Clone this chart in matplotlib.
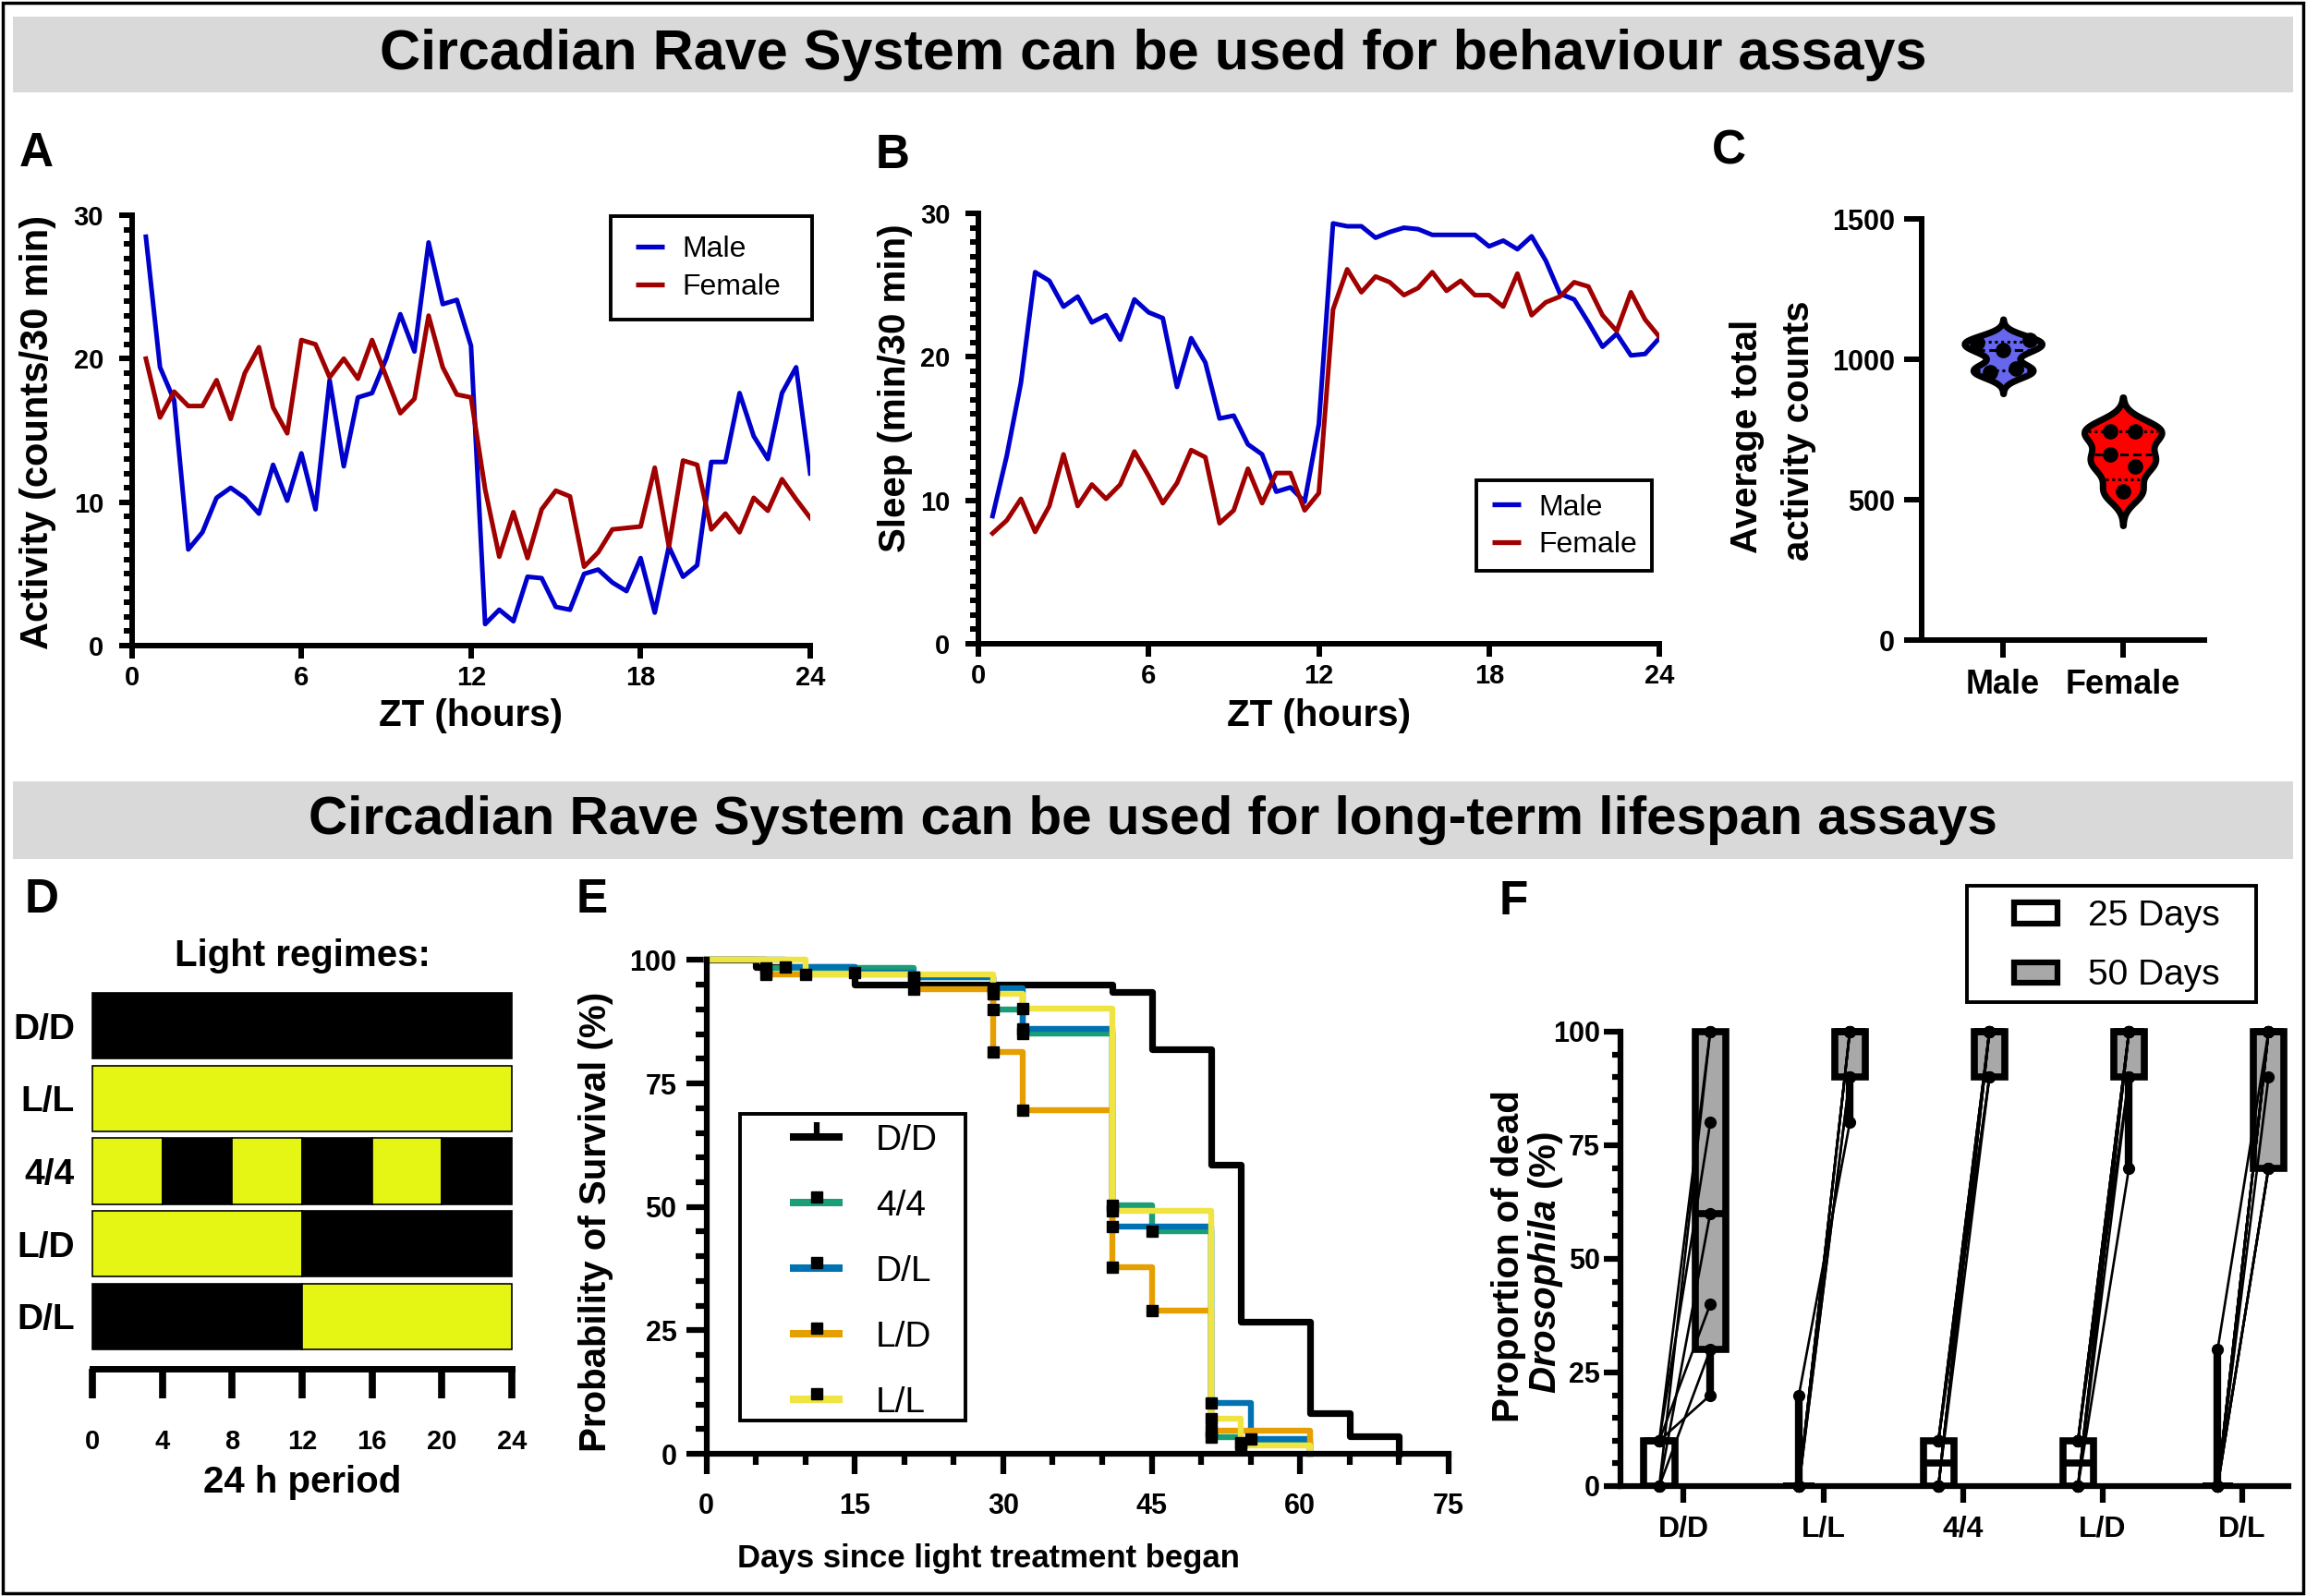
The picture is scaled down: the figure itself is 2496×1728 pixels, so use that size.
import numpy as np
import matplotlib
matplotlib.use("Agg")
import matplotlib.pyplot as plt
from matplotlib.patches import Rectangle
from matplotlib.lines import Line2D
from matplotlib.ticker import MultipleLocator
from itertools import groupby

plt.rcParams['font.family'] = ['Liberation Sans', 'DejaVu Sans']
plt.rcParams['font.weight'] = 'bold'
plt.rcParams['mathtext.fontset'] = 'custom'
plt.rcParams['mathtext.it'] = 'Liberation Sans:italic:bold'
plt.rcParams['mathtext.rm'] = 'Liberation Sans:bold'

# ---------------- data ----------------
headers = ['Circadian Rave System can be used for behaviour assays',
           'Circadian Rave System can be used for long-term lifespan assays']

zt = np.arange(0.5, 24.01, 0.5)   # 30 min bins
act_male = [28.5, 19.4, 17.1, 6.7, 7.9, 10.3, 11.0, 10.3, 9.2, 12.6, 10.1, 13.4,
            9.5, 18.5, 12.5, 17.3, 17.6, 20.0, 23.1, 20.5, 28.1, 23.8, 24.1, 20.9,
            1.5, 2.5, 1.7, 4.8, 4.7, 2.7, 2.5, 5.0, 5.3, 4.4, 3.8, 6.1,
            2.3, 6.9, 4.8, 5.6, 12.8, 12.8, 17.6, 14.6, 13.0, 17.6, 19.4, 12.0]
act_female = [20.0, 15.9, 17.7, 16.7, 16.7, 18.5, 15.8, 19.0, 20.8, 16.6, 14.8, 21.3,
              21.0, 18.7, 20.0, 18.6, 21.3, 18.75, 16.2, 17.2, 23.0, 19.4, 17.5, 17.3,
              10.9, 6.2, 9.3, 6.1, 9.5, 10.8, 10.4, 5.5, 6.5, 8.1, 8.2, 8.3,
              12.4, 6.9, 12.9, 12.6, 8.1, 9.2, 7.9, 10.3, 9.4, 11.6, 10.2, 8.9]
sleep_male = [8.9, 13.1, 18.2, 25.9, 25.3, 23.5, 24.2, 22.4, 22.9, 21.2, 24.0, 23.1,
              22.7, 17.9, 21.3, 19.6, 15.7, 15.9, 13.9, 13.2, 10.6, 10.9, 9.9, 15.3,
              29.3, 29.1, 29.1, 28.3, 28.7, 29.0, 28.9, 28.5, 28.5, 28.5, 28.5, 27.7,
              28.1, 27.5, 28.4, 26.7, 24.4, 24.0, 22.4, 20.7, 21.6, 20.1, 20.2, 21.3]
sleep_female = [7.7, 8.6, 10.1, 7.8, 9.6, 13.2, 9.6, 11.1, 10.1, 11.1, 13.4, 11.7,
                9.8, 11.2, 13.5, 13.0, 8.4, 9.3, 12.2, 9.8, 11.9, 11.9, 9.3, 10.5,
                23.3, 26.1, 24.5, 25.6, 25.2, 24.3, 24.8, 25.9, 24.6, 25.3, 24.3, 24.3,
                23.5, 25.8, 22.9, 23.8, 24.2, 25.2, 24.9, 22.9, 21.8, 24.5, 22.6, 21.4]

sexes = ['Male', 'Female']
total_male = [953, 966, 1032, 1058, 1068]
total_female = [528, 617, 661, 745, 745]

regimes = ['D/D', 'L/L', '4/4', 'L/D', 'D/L']
regime_blocks = ['DDDDDD', 'LLLLLL', 'LDLDLD', 'LLLDDD', 'DDDLLL']   # 4 h blocks
block_h = 4

surv_groups = ['D/D', '4/4', 'D/L', 'L/D', 'L/L']
surv_t = [[0, 5, 15, 41, 45, 51, 54, 61, 65, 70],
          [0, 6, 21, 29, 32, 41, 45, 51, 54, 61],
          [0, 8, 15, 21, 29, 32, 41, 51, 55, 61],
          [0, 6, 21, 29, 32, 41, 45, 51, 61],
          [0, 10, 29, 32, 41, 51, 54, 61]]
surv_s = [[100, 98.5, 95.0, 93.5, 82.0, 58.5, 26.7, 8.3, 3.5, 0],
          [100, 98.4, 96.5, 90.0, 85.2, 50.3, 45.1, 3.3, 2.2, 0],
          [100, 98.5, 97.5, 96.5, 94.3, 86.1, 46.0, 10.3, 2.9, 0],
          [100, 97.1, 94.1, 81.3, 69.5, 37.7, 29.0, 4.6, 0],
          [100, 97.0, 93.2, 90.1, 49.2, 7.1, 1.6, 0]]

f_cats = ['D/D', 'L/L', '4/4', 'L/D', 'D/L']
f_days = ['25 Days', '50 Days']
dead25 = [[10, 0, 10, 0, 10, 0, 10],
          [0, 0, 0, 0, 0, 0, 20],
          [0, 10, 0, 10, 0, 10, 0, 10, 0, 10],
          [0, 10, 0, 10, 0, 10, 0, 10, 0, 10],
          [0, 0, 0, 0, 30, 0, 0, 0, 0, 0]]
dead50 = [[100, 100, 80, 60, 40, 30, 20],
          [100, 100, 100, 90, 90, 100, 80],
          [100, 90, 100, 90, 100, 100, 90, 100, 100, 100],
          [100, 90, 100, 100, 70, 100, 90, 100, 100, 100],
          [100, 70, 100, 90, 100, 70, 100, 70, 100, 100]]

# ---------------- style ----------------
male_col = '#0000CC'
female_col = '#A00000'
yellow = '#E5F514'
surv_colors = ['black', '#1A9E77', '#0072B2', '#E69F00', '#F0E442']
gray = '#A8A8A8'

W, H = 2496, 1728
fig = plt.figure(figsize=(W / 100, H / 100), dpi=100)


def add_ax(x0, y0, x1, y1):
    # pixel box measured from the top-left corner
    ax = fig.add_axes([x0 / W, 1 - y1 / H, (x1 - x0) / W, (y1 - y0) / H])
    ax.set_facecolor('none')
    return ax


def put(x, y, s, **kw):
    kw.setdefault('ha', 'center')
    kw.setdefault('va', 'center')
    return fig.text(x / W, 1 - y / H, s, **kw)


def fig_rect(x0, y0, x1, y1, **kw):
    fig.patches.append(Rectangle((x0 / W, 1 - y1 / H), (x1 - x0) / W, (y1 - y0) / H,
                                 transform=fig.transFigure, **kw))


def fig_line(xs, ys, **kw):
    fig.lines.append(Line2D([x / W for x in xs], [1 - y / H for y in ys],
                            transform=fig.transFigure, **kw))


def prism(ax, lw=4.3, major=10, minor=6.5, fs=21, xpad=5, ypad=12):
    ax.spines['top'].set_visible(False)
    ax.spines['right'].set_visible(False)
    ax.spines['left'].set_linewidth(lw)
    ax.spines['bottom'].set_linewidth(lw)
    ax.tick_params(which='major', direction='out', length=major, width=lw, labelsize=fs)
    ax.tick_params(which='minor', direction='out', length=minor, width=lw)
    ax.tick_params(axis='x', which='major', pad=xpad)
    ax.tick_params(axis='y', which='major', pad=ypad)


# outer frame and section bands
fig_rect(3, 3, W - 3, H - 3, fill=False, ec='black', lw=2.5)
for y0, y1 in [(18, 100), (846, 930)]:
    fig_rect(14, y0, 2482, y1, fc='#D9D9D9', ec='none')
put(1248, 59, headers[0], fontsize=44)
put(1248, 888, headers[1], fontsize=42)

# ---------------- A: activity ----------------
axA = add_ax(142.6, 233, 877, 699)
axA.plot(zt, act_male, color=male_col, lw=3.6)
axA.plot(zt, act_female, color=female_col, lw=3.6)
axA.set_xlim(0, 24)
axA.set_ylim(0, 30)
axA.xaxis.set_major_locator(MultipleLocator(6))
axA.yaxis.set_major_locator(MultipleLocator(10))
axA.yaxis.set_minor_locator(MultipleLocator(1))
prism(axA)
fig_rect(661, 234, 879, 346, fill=False, ec='black', lw=2.8)
for y, lab, c in [(266.5, sexes[0], male_col), (307.5, sexes[1], female_col)]:
    fig_line([688, 719], [y, y], color=c, lw=3.8, solid_capstyle='butt')
    put(738, y + 11.5, lab, ha='left', va='baseline', fontsize=23, fontweight='normal')
put(509, 775, 'ZT (hours)', fontsize=29)
put(41, 468, 'Activity (counts/30 min)', fontsize=30, rotation=90)
put(39, 167, 'A', fontsize=37)

# ---------------- B: sleep ----------------
axB = add_ax(1059, 231, 1796, 697)
axB.plot(zt, sleep_male, color=male_col, lw=3.6)
axB.plot(zt, sleep_female, color=female_col, lw=3.6)
axB.set_xlim(0, 24)
axB.set_ylim(0, 30)
axB.xaxis.set_major_locator(MultipleLocator(6))
axB.yaxis.set_major_locator(MultipleLocator(10))
axB.yaxis.set_minor_locator(MultipleLocator(1))
prism(axB)
fig_rect(1598, 520, 1788.5, 618, fill=False, ec='black', lw=2.8)
for y, lab, c in [(546, sexes[0], male_col), (586.5, sexes[1], female_col)]:
    fig_line([1615, 1646], [y, y], color=c, lw=3.8, solid_capstyle='butt')
    put(1665, y + 11.5, lab, ha='left', va='baseline', fontsize=23, fontweight='normal')
put(1428, 775, 'ZT (hours)', fontsize=29)
put(969, 420, 'Sleep (min/30 min)', fontsize=29, rotation=90)
put(966, 169, 'B', fontsize=37)

# ---------------- C: violins ----------------
axC = add_ax(2080, 237, 2386, 693)
totals = [total_male, total_female]
violin_colors = ['#6666EE', '#FF0000']
violin_bw = [25, 40]
jitters = [[-0.11, 0.11, 0.0, -0.22, 0.22], [0.0, 0.105, -0.11, -0.11, 0.105]]
for i, (vals, fc, bw, jit) in enumerate(zip(totals, violin_colors, violin_bw, jitters)):
    v = np.asarray(vals, float)
    grid = np.linspace(v.min() - 3 * bw, v.max() + 3 * bw, 400)
    dens = np.exp(-0.5 * ((grid[:, None] - v[None, :]) / bw) ** 2).sum(1)
    half = 0.323 * dens / dens.max()
    axC.fill_betweenx(grid, i - half, i + half, facecolor=fc, edgecolor='black',
                      lw=5, zorder=2)
    q1, med, q3 = np.percentile(v, [25, 50, 75], method='weibull')
    for q, ls in [(q1, (0, (1, 1.2))), (med, (0, (3, 1.5))), (q3, (0, (1, 1.2)))]:
        hw = np.interp(q, grid, half) - 0.03
        axC.plot([i - hw, i + hw], [q, q], color='black', lw=2.2, ls=ls, zorder=3)
    axC.plot(i + np.asarray(jit), v, 'o', color='black', ms=11, zorder=4)
axC.set_xlim(-0.68, 1.68)
axC.set_ylim(0, 1500)
axC.set_xticks([0, 1])
axC.set_xticklabels(sexes)
axC.yaxis.set_major_locator(MultipleLocator(500))
prism(axC, major=14, fs=22, xpad=8, ypad=7)
axC.tick_params(axis='x', labelsize=26)
put(1891, 472, 'Average total', fontsize=29, rotation=90)
put(1947, 466, 'activity counts', fontsize=29, rotation=90)
put(1871, 164, 'C', fontsize=37)

# ---------------- D: light regimes ----------------
axD = add_ax(97.6, 1063.5, 557, 1482)
for i, sched in enumerate(regime_blocks):
    x = 0
    for state, grp in groupby(sched):
        n = len(list(grp))
        axD.barh(i, n * block_h, left=x, height=0.91,
                 color=yellow if state == 'L' else 'black', edgecolor='black', lw=1.2)
        x += n * block_h
axD.set_xlim(-0.13, 24.15)
axD.set_ylim(4.72, -0.6)
for s in ['top', 'right', 'left']:
    axD.spines[s].set_visible(False)
axD.spines['bottom'].set_linewidth(5)
axD.spines['bottom'].set_bounds(0, 24)
axD.set_xticks(range(0, 25, 4))
axD.tick_params(axis='x', direction='out', length=23, width=5.5, labelsize=21, pad=24)
axD.set_yticks(range(len(regimes)))
axD.set_yticklabels(regimes)
axD.tick_params(axis='y', length=0, labelsize=28, pad=12)
put(327, 1035, 'Light regimes:', fontsize=29)
put(327, 1605, '24 h period', fontsize=29)
put(45, 974, 'D', fontsize=37)

# ---------------- E: survival ----------------
axE = add_ax(764.5, 1039.4, 1568, 1574)
for t, s, c, name in zip(surv_t, surv_s, surv_colors, surv_groups):
    lw = 5.2 if name == 'D/D' else 4.6
    axE.step(t, s, where='post', color=c, lw=lw, clip_on=False)
for t, s, name in zip(surv_t, surv_s, surv_groups):
    if name != 'D/D':
        axE.plot(t[1:-1], s[1:-1], 's', color='black', ms=8, clip_on=False, zorder=5)
axE.set_xlim(0, 75)
axE.set_ylim(0, 100)
axE.xaxis.set_major_locator(MultipleLocator(15))
axE.xaxis.set_minor_locator(MultipleLocator(5))
axE.yaxis.set_major_locator(MultipleLocator(25))
axE.yaxis.set_minor_locator(MultipleLocator(5))
prism(axE, lw=4.5, major=16, minor=8.5, fs=22, xpad=14, ypad=7)
# legend box
fig_rect(801, 1206, 1045, 1537.5, fill=False, ec='black', lw=2.8)
for i, (name, c) in enumerate(zip(surv_groups, surv_colors)):
    y = 1231 + 71 * i
    fig_line([855, 912], [y, y], color=c, lw=5.8, solid_capstyle='butt')
    if name == 'D/D':
        fig_line([883.5], [y - 8], marker='|', ms=11, mew=4.5, color='black')
    else:
        fig_line([883.5], [y - 6], marker='s', ms=8, color='black')
    put(948, y + 14, name, ha='left', va='baseline', fontsize=28, fontweight='normal')
put(645, 1323, 'Probability of Survival (%)', fontsize=29, rotation=90)
put(1070, 1688, 'Days since light treatment began', fontsize=25)
put(641, 974, 'E', fontsize=37)

# ---------------- F: proportion dead ----------------
axF = add_ax(1754, 1097.3, 2476.6, 1609)
off25, off50 = -0.175, 0.19
for i in range(len(f_cats)):
    for vals, off, fc in [(dead25[i], off25, 'white'), (dead50[i], off50, gray)]:
        v = np.asarray(vals, float)
        q1, med, q3 = np.percentile(v, [25, 50, 75], method='weibull')
        st = dict(med=med, q1=q1, q3=q3, whislo=v.min(), whishi=v.max(), fliers=[])
        axF.bxp([st], positions=[i + off], widths=0.22, patch_artist=True,
                showcaps=False, showfliers=False, manage_ticks=False,
                boxprops=dict(facecolor=fc, edgecolor='black', linewidth=5.5),
                medianprops=dict(color='black', linewidth=5.5),
                whiskerprops=dict(color='black', linewidth=6))
    for a, b in zip(dead25[i], dead50[i]):
        axF.plot([i + off25, i + off50], [a, b], '-o', color='black', lw=1.9, ms=8.5,
                 zorder=4, clip_on=False)
axF.set_xlim(-0.453, 4.33)
axF.set_ylim(0, 104)
axF.set_xticks(range(len(f_cats)))
axF.set_xticklabels(f_cats)
axF.yaxis.set_major_locator(MultipleLocator(25))
axF.yaxis.set_minor_locator(MultipleLocator(5))
prism(axF, lw=4.5, major=13, minor=6.5, fs=22, xpad=10, ypad=3)
axF.spines['left'].set_bounds(0, 100)
axF.tick_params(axis='x', labelsize=23)
# legend box
fig_rect(2129, 959, 2441.5, 1085, fill=False, ec='black', lw=2.8)
for (y0, y1), lab, fc in zip([(977, 1000), (1042, 1064)], f_days, ['white', gray]):
    fig_rect(2180, y0, 2227, y1, fc=fc, ec='black', lw=4.5)
    put(2260, (y0 + y1) / 2 + 13, lab, ha='left', va='baseline', fontsize=28,
        fontweight='normal')
put(1633, 1360, 'Proportion of dead', fontsize=29, rotation=90)
put(1673, 1367, r'$\mathit{Drosophila}$ (%)', fontsize=29, rotation=90)
put(1638, 977, 'F', fontsize=37)

fig.savefig('out.png', dpi=100)
